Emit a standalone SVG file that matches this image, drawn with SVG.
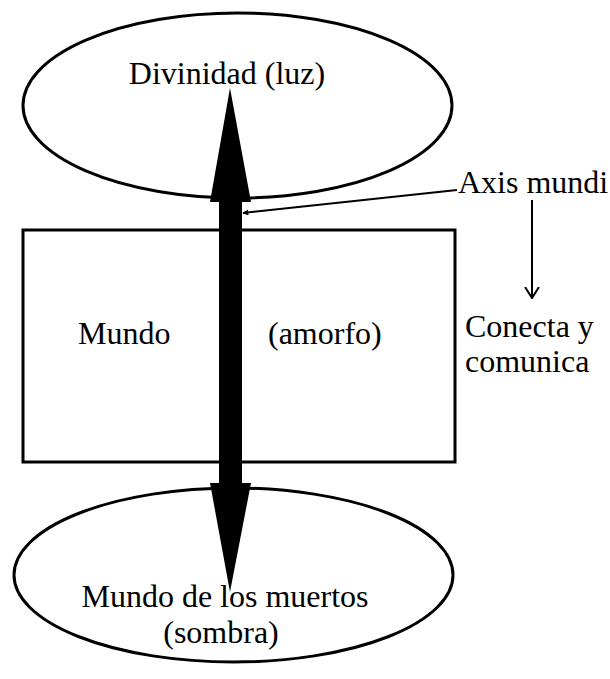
<svg xmlns="http://www.w3.org/2000/svg" width="610" height="679" viewBox="0 0 610 679">
<style>
.shape{fill:#fff;stroke:#000;stroke-width:3}
.t{font-family:"Liberation Serif","Times New Roman",serif;font-size:32px;fill:#000}
.thin{stroke:#000;stroke-width:2;fill:none}
</style>
<defs>
<marker id="tri" viewBox="0 0 10 10" refX="9" refY="5" markerWidth="6" markerHeight="6" orient="auto" markerUnits="userSpaceOnUse">
<path d="M0,0 L10,5 L0,10 z" fill="#000"/>
</marker>
<marker id="vee" viewBox="0 0 12 16" refX="11" refY="8" markerWidth="12" markerHeight="16" orient="auto" markerUnits="userSpaceOnUse">
<path d="M0,1 L11,8 L0,15" fill="none" stroke="#000" stroke-width="2"/>
</marker>
</defs>
<g id="divinidad">
<ellipse class="shape" cx="237.5" cy="105.5" rx="214.5" ry="92.5"/>
<text class="t" x="227" y="84" text-anchor="middle">Divinidad (luz)</text>
</g>
<g id="mundo">
<rect class="shape" x="23" y="230" width="432" height="232"/>
<text class="t" x="78" y="344">Mundo</text>
<text class="t" x="268" y="344">(amorfo)</text>
</g>
<g id="muertos">
<ellipse class="shape" cx="233.5" cy="575" rx="219.5" ry="87"/>
<text class="t" x="225" y="607" text-anchor="middle">Mundo de los muertos</text>
<text class="t" x="221" y="643" text-anchor="middle">(sombra)</text>
</g>
<g id="axis-label">
<text class="t" x="458" y="193">Axis mundi</text>
</g>
<g id="conecta-label">
<text class="t" x="465" y="337">Conecta y</text>
<text class="t" x="465" y="372">comunica</text>
</g>
<g id="connectors">
<path d="M230,88 L251,202 L242,202 L242,483 L251,483 L230,592 L210,483 L219,483 L219,202 L210,202 Z" fill="#000"/>
<line class="thin" x1="457" y1="190" x2="243" y2="213" marker-end="url(#tri)"/>
<line class="thin" x1="532" y1="200" x2="532" y2="298" marker-end="url(#vee)"/>
</g>
</svg>
